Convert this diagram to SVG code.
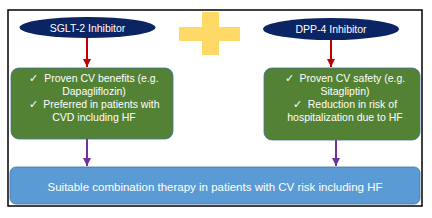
<svg xmlns="http://www.w3.org/2000/svg" width="432" height="218" viewBox="0 0 432 218">
<defs>
<style>
.t{font-family:"Liberation Sans",Arial,sans-serif;fill:#fff;text-anchor:middle;white-space:pre}
.head{font-size:10.5px}
.body{font-size:10.5px}
.green{fill:#548235;stroke:#41719c;stroke-width:0.8}
.oval{fill:#0b2463}
.red{stroke:#c00000;stroke-width:2;fill:none}
.pur{stroke:#7030a0;stroke-width:2;fill:none}
</style>
<marker id="ar" viewBox="0 0 10 10" refX="10" refY="5" markerWidth="4" markerHeight="4" orient="auto" markerUnits="strokeWidth"><path d="M0,0L10,5L0,10z" fill="#c00000"/></marker>
<marker id="ap" viewBox="0 0 10 10" refX="10" refY="5" markerWidth="4" markerHeight="4" orient="auto" markerUnits="strokeWidth"><path d="M0,0L10,5L0,10z" fill="#7030a0"/></marker>
</defs>
<rect x="0" y="0" width="432" height="218" fill="#fff"/>
<rect x="8" y="10" width="414" height="196" fill="#fff" stroke="#000" stroke-width="1.5"/>
<g id="plus" fill="#ffd966">
<rect x="202" y="12" width="17" height="43"/>
<rect x="179" y="27" width="61" height="14"/>
</g>
<g id="connectors">
<line class="red" x1="87" y1="38" x2="87" y2="67" marker-end="url(#ar)"/>
<line class="red" x1="331" y1="40" x2="331" y2="67" marker-end="url(#ar)"/>
<line class="pur" x1="87" y1="139" x2="87" y2="166" marker-end="url(#ap)"/>
<line class="pur" x1="336" y1="140" x2="336" y2="166" marker-end="url(#ap)"/>
</g>
<g id="sglt2">
<ellipse class="oval" cx="87.5" cy="27.5" rx="68" ry="10.5"/>
<text class="t head" x="87.5" y="31.5">SGLT-2 Inhibitor</text>
</g>
<g id="dpp4">
<ellipse class="oval" cx="331" cy="29" rx="68" ry="11"/>
<text class="t head" x="331" y="33">DPP-4 Inhibitor</text>
</g>
<g id="sglt2-benefits">
<rect class="green" x="11" y="68" width="162" height="71" rx="8"/>
<text class="t body" x="94" y="82" xml:space="preserve">✓  Proven CV benefits (e.g.</text>
<text class="t body" x="94" y="95">Dapagliflozin)</text>
<text class="t body" x="94" y="108" xml:space="preserve">✓  Preferred in patients with</text>
<text class="t body" x="94" y="121">CVD including HF</text>
</g>
<g id="dpp4-benefits">
<rect class="green" x="264" y="68" width="156" height="72" rx="8"/>
<text class="t body" x="345" y="82" xml:space="preserve">✓  Proven CV safety (e.g.</text>
<text class="t body" x="345" y="95">Sitagliptin)</text>
<text class="t body" x="345" y="108" xml:space="preserve">✓  Reduction in risk of</text>
<text class="t body" x="345" y="121">hospitalization due to HF</text>
</g>
<g id="combination">
<rect x="10" y="167" width="410" height="37" rx="6" fill="#5b9bd5" stroke="#41719c" stroke-width="0.8"/>
<text class="t" x="215" y="191" font-size="11.5">Suitable combination therapy in patients with CV risk including HF</text>
</g>
</svg>
